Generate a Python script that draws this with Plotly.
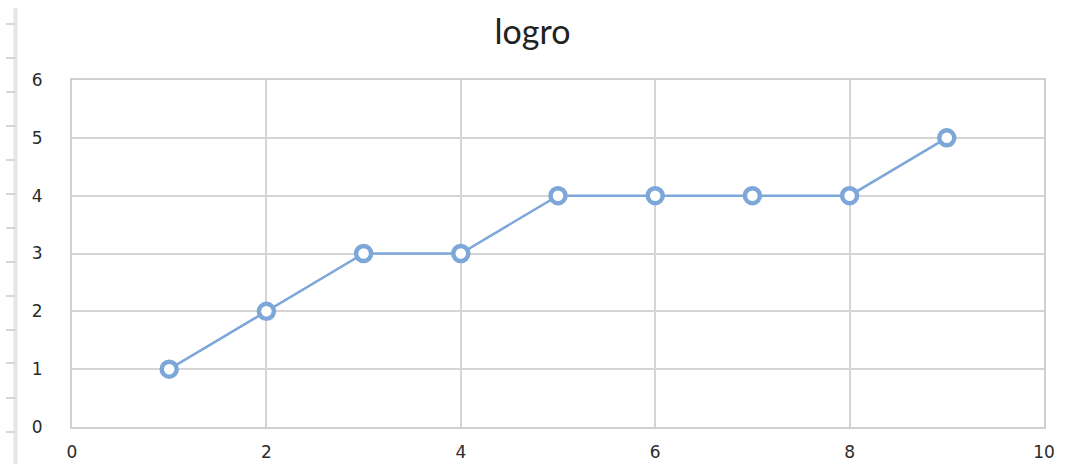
import plotly.graph_objects as go

x_vals = [1, 2, 3, 4, 5, 6, 7, 8, 9]
y_vals = [1, 2, 3, 3, 4, 4, 4, 4, 5]
title_text = "logro"

W, H = 1065, 464
ML, MR, MT, MB = 72, 21, 80, 37
PW, PH = W - ML - MR, H - MT - MB

def px(xp):
    return (xp - ML) / PW

def py(yp):
    return (H - MB - yp) / PH

fig = go.Figure()
fig.add_trace(go.Scatter(
    x=x_vals, y=y_vals, mode="lines+markers",
    line=dict(color="#7DA7D8", width=2.5),
    marker=dict(symbol="circle", size=15, color="white",
                line=dict(color="#7DA7D8", width=4.5)),
    showlegend=False, cliponaxis=False,
))

shapes = []
# left ruler strip
shapes.append(dict(type="line", xref="paper", yref="paper",
                   x0=px(15.5), x1=px(15.5), y0=py(8), y1=py(464),
                   line=dict(color="#E6E6E6", width=4), layer="below"))
for t in [24, 58, 92, 126, 160, 194, 228, 262, 296, 330, 363, 398, 432]:
    shapes.append(dict(type="line", xref="paper", yref="paper",
                       x0=px(6), x1=px(15), y0=py(t), y1=py(t),
                       line=dict(color="#C8C8C8", width=1.5), layer="below"))

fig.update_layout(
    width=W, height=H,
    margin=dict(l=ML, r=MR, t=MT, b=MB, autoexpand=False),
    paper_bgcolor="white", plot_bgcolor="white",
    title=dict(text=title_text, x=0.5, xanchor="center", y=1 - 32 / H, yanchor="middle",
               font=dict(family="Lato", size=34, color="#222222")),
    xaxis=dict(range=[0, 10], dtick=2, tick0=0, showgrid=True, gridcolor="#D4D4D4",
               gridwidth=1.5, zeroline=False, showline=True, linecolor="#D0D0D0",
               linewidth=2, mirror=True, ticks="", ticklabelstandoff=9, automargin=False,
               tickfont=dict(family="DejaVu Sans", size=17, color="#2A2A2A")),
    yaxis=dict(range=[0, 6], dtick=1, tick0=0, showgrid=True, gridcolor="#D4D4D4",
               gridwidth=1.5, zeroline=False, showline=True, linecolor="#D0D0D0",
               linewidth=2, mirror=True, ticks="", ticklabelstandoff=24, automargin=False,
               tickfont=dict(family="DejaVu Sans", size=17, color="#2A2A2A")),
    shapes=shapes,
)

fig.write_html("out.html")
